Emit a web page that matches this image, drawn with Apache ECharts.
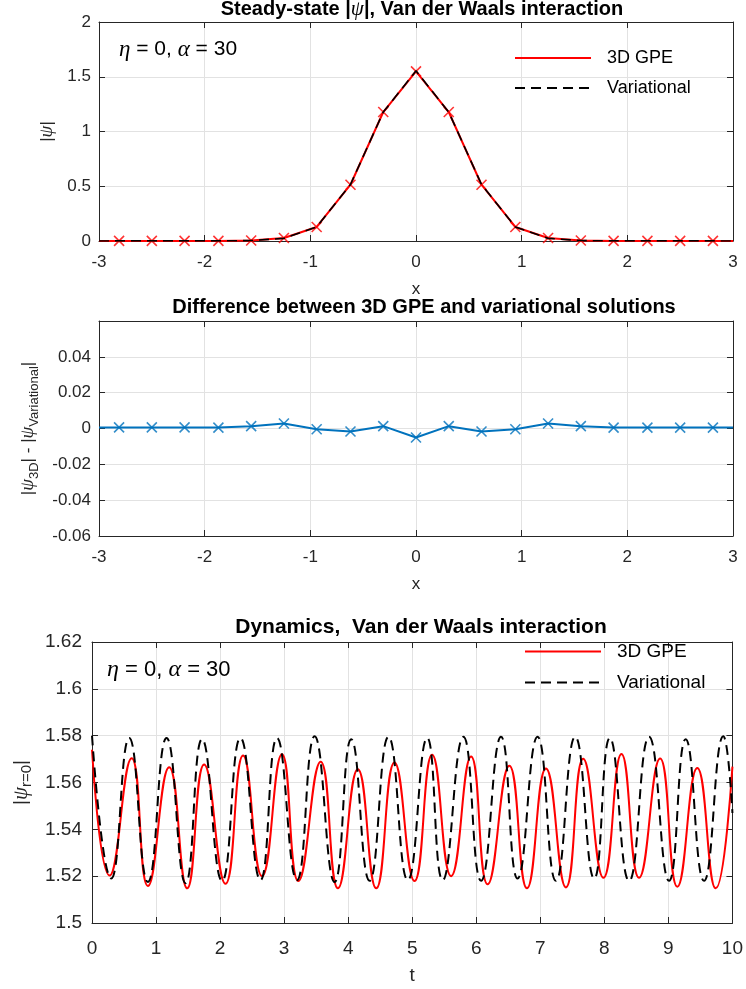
<!DOCTYPE html>
<html>
<head>
<meta charset="utf-8">
<script src="https://cdn.jsdelivr.net/npm/echarts@6/dist/echarts.min.js"></script>
<style>
html,body{margin:0;padding:0;background:#fff;}
#chart{width:746px;height:989px;}
</style>
</head>
<body>
<div id="chart"></div>
<script>
/* steady state: sample positions (edges at -3 / 3 only carry the line) */
var xPos = [-3, -2.81, -2.5, -2.19, -1.87, -1.56, -1.25, -0.94, -0.62, -0.31, 0, 0.31, 0.62, 0.94, 1.25, 1.56, 1.87, 2.19, 2.5, 2.81, 3];
var gpeProfile = [0, 0.001, 0.001, 0.001, 0.001, 0.005, 0.027, 0.128, 0.514, 1.178, 1.549, 1.178, 0.514, 0.128, 0.027, 0.005, 0.001, 0.001, 0.001, 0.001, 0];
var varProfile = [0, 0.001, 0.001, 0.001, 0.001, 0.004, 0.024, 0.128, 0.516, 1.177, 1.554, 1.177, 0.516, 0.128, 0.024, 0.004, 0.001, 0.001, 0.001, 0.001, 0];
// |psi_3D| - |psi_Variational|
var diffProfile = [0.0005, 0.0006, 0.0006, 0.0006, 0.0005, 0.0013, 0.0028, -0.0004, -0.0017, 0.0013, -0.005, 0.0013, -0.0017, -0.0004, 0.0028, 0.0013, 0.0005, 0.0005, 0.0005, 0.0005, 0.0005];

/* dynamics: turning points */
var tGpe = [0, 0.276, 0.619, 0.873, 1.205, 1.486, 1.751, 2.084, 2.359, 2.655, 2.966, 3.222, 3.570, 3.840, 4.151, 4.438, 4.723, 5.035, 5.311, 5.607, 5.919, 6.178, 6.516, 6.792, 7.088, 7.400, 7.670, 7.986, 8.267, 8.542, 8.870, 9.140, 9.451, 9.738, 10];
var gpeDyn = [1.574, 1.5203, 1.5704, 1.5158, 1.5665, 1.5148, 1.5677, 1.5168, 1.5715, 1.52, 1.5721, 1.5179, 1.5689, 1.5148, 1.5657, 1.5148, 1.5685, 1.5179, 1.5718, 1.52, 1.5711, 1.5165, 1.5672, 1.5148, 1.566, 1.5152, 1.5701, 1.5193, 1.5722, 1.5193, 1.5702, 1.5155, 1.5662, 1.5148, 1.5668];
var tVar = [0, 0.301, 0.581, 0.873, 1.164, 1.461, 1.719, 2.031, 2.318, 2.630, 2.889, 3.200, 3.476, 3.788, 4.048, 4.334, 4.630, 4.931, 5.233, 5.476, 5.799, 6.075, 6.387, 6.645, 6.957, 7.244, 7.545, 7.841, 8.086, 8.387, 8.698, 9.010, 9.270, 9.556, 9.857, 10];
var varDyn = [1.58, 1.519, 1.579, 1.5175, 1.579, 1.517, 1.5785, 1.518, 1.579, 1.5183, 1.579, 1.5183, 1.5797, 1.5175, 1.5785, 1.518, 1.5795, 1.5183, 1.579, 1.5183, 1.5795, 1.518, 1.5795, 1.519, 1.5795, 1.518, 1.5795, 1.519, 1.579, 1.518, 1.5795, 1.518, 1.5785, 1.518, 1.5797, 1.547];

var seriesNames = ['3D GPE', 'Variational'];

var fontMain = 'Liberation Sans';
var axisColor = '#262626';
var gridColor = '#e2e2e2';
var xMark = 'path://M0,0L10,10M10,0L0,10';

function pairs(xs, ys){
	var out = [];
	for (var i = 0; i < xs.length; i++) out.push([xs[i], ys[i]]);
	return out;
}

// rich styles for axis names with greek letters / subscripts
function richLabel(fs){
	return {
		n: {fontSize: fs, fontFamily: fontMain, color: axisColor, lineHeight: 26},
		p: {fontSize: fs + 2, fontFamily: 'Liberation Serif', fontStyle: 'italic', color: axisColor, lineHeight: 26},
		s: {fontSize: fs - 4, fontFamily: fontMain, color: axisColor, lineHeight: 13, verticalAlign: 'bottom'}
	};
}

function xAxes(gi, min, max, step, name, gap, fs, margin){
	return [{
		type: 'value', gridIndex: gi, position: 'bottom', min: min, max: max, interval: step,
		axisLine: {onZero: false, lineStyle: {color: axisColor}},
		axisTick: {inside: true, length: 6, lineStyle: {color: axisColor}},
		axisLabel: {color: axisColor, fontSize: fs, fontFamily: fontMain, margin: margin},
		splitLine: {show: true, lineStyle: {color: gridColor}},
		name: name, nameLocation: 'middle', nameGap: gap,
		nameTextStyle: {color: axisColor, fontSize: fs, fontFamily: fontMain}
	}, {
		type: 'value', gridIndex: gi, position: 'top', min: min, max: max, interval: step,
		axisLine: {onZero: false, lineStyle: {color: axisColor}},
		axisTick: {inside: true, length: 6, lineStyle: {color: axisColor}},
		axisLabel: {show: false}, splitLine: {show: false}
	}];
}

function yAxes(gi, min, max, step, name, gap, fs, margin, fmt){
	return [{
		type: 'value', gridIndex: gi, position: 'left', min: min, max: max, interval: step,
		axisLine: {onZero: false, lineStyle: {color: axisColor}},
		axisTick: {inside: true, length: 6, lineStyle: {color: axisColor}},
		axisLabel: {color: axisColor, fontSize: fs, fontFamily: fontMain, margin: margin, formatter: fmt},
		splitLine: {show: true, lineStyle: {color: gridColor}},
		name: name, nameLocation: 'middle', nameGap: gap, nameRotate: 90,
		nameTextStyle: {rich: richLabel(fs)}
	}, {
		type: 'value', gridIndex: gi, position: 'right', min: min, max: max, interval: step,
		axisLine: {onZero: false, lineStyle: {color: axisColor}},
		axisTick: {inside: true, length: 6, lineStyle: {color: axisColor}},
		axisLabel: {show: false}, splitLine: {show: false}
	}];
}

function diffFmt(v){
	if (Math.abs(v - 0.06) < 1e-9) return '';
	return String(+v.toFixed(2));
}

var titleRich = {
	b: {fontSize: 20, fontWeight: 'bold', fontFamily: fontMain, color: '#000'},
	g: {fontSize: 21, fontWeight: 'normal', fontStyle: 'italic', fontFamily: 'Liberation Serif', color: '#000'}
};
function noteRich(fs){
	return {
		t: {fontSize: fs, fontWeight: 'normal', fontFamily: fontMain, color: '#000'},
		i: {fontSize: fs + 2, fontWeight: 'normal', fontStyle: 'italic', fontFamily: 'Liberation Serif', color: '#000'}
	};
}

function makeLegend(left, top, fs, gap){
	return {
		data: seriesNames, left: left, top: top,
		orient: 'vertical', itemWidth: 76, itemHeight: 14, itemGap: gap, selectedMode: false,
		itemStyle: {opacity: 0},
		textStyle: {fontSize: fs, fontFamily: fontMain, color: '#000', padding: [0, 0, 0, 11]}
	};
}

var chart = echarts.init(document.getElementById('chart'), null, {renderer: 'canvas'});

var option = {
	backgroundColor: '#fff',
	animation: false,
	title: [
		{text: '{b|Steady-state |}{g|ψ}{b||, Van der Waals interaction}', left: 417, top: -6, textAlign: 'center', textStyle: {rich: titleRich}},
		{text: 'Difference between 3D GPE and variational solutions', left: 419, top: 292, textAlign: 'center',
			textStyle: {fontSize: 20, fontWeight: 'bold', fontFamily: fontMain, color: '#000'}},
		{text: 'Dynamics,  Van der Waals interaction', left: 416, top: 612, textAlign: 'center',
			textStyle: {fontSize: 21, fontWeight: 'bold', fontFamily: fontMain, color: '#000'}},
		{text: '{i|η}{t| = 0, }{i|α}{t| = 30}', left: 114, top: 33, textStyle: {rich: noteRich(21)}},
		{text: '{i|η}{t| = 0, }{i|α}{t| = 30}', left: 102, top: 653, textStyle: {rich: noteRich(22)}}
	],
	legend: [
		makeLegend(509, 44, 18, 12),
		makeLegend(519, 637, 19, 12)
	],
	grid: [
		{left: 99, right: 13, top: 22, height: 219},
		{left: 99, right: 13, top: 321, height: 215},
		{left: 92, right: 13, top: 642, height: 281}
	],
	xAxis: [].concat(
		xAxes(0, -3, 3, 1, 'x', 40, 17, 13),
		xAxes(1, -3, 3, 1, 'x', 40, 17, 13),
		xAxes(2, 0, 10, 1, 't', 43, 19, 16)
	),
	yAxis: [].concat(
		yAxes(0, 0, 2, 0.5, '{n||}{p|ψ}{n||}', 32, 17, 8),
		yAxes(1, -0.06, 0.06, 0.02, '{n||}{p|ψ}{s|3D}{n|| - |}{p|ψ}{s|Variational}{n||}', 58, 17, 8, diffFmt),
		yAxes(2, 1.5, 1.62, 0.02, '{n||}{p|ψ}{s|r=0}{n||}', 56, 19, 10)
	),
	series: [
		{name: '3D GPE', type: 'line', xAxisIndex: 0, yAxisIndex: 0, data: pairs(xPos, gpeProfile),
			symbol: 'none', lineStyle: {color: '#ff0000', width: 2}, itemStyle: {color: '#ff0000'}},
		{name: 'Variational', type: 'line', xAxisIndex: 0, yAxisIndex: 0, data: pairs(xPos, varProfile),
			symbol: 'none', lineStyle: {color: '#000', width: 1.6, type: [10, 6]}, itemStyle: {color: '#000'}},
		{name: 'gpe markers', type: 'scatter', xAxisIndex: 0, yAxisIndex: 0,
			data: pairs(xPos, gpeProfile).slice(1, -1), symbol: xMark, symbolSize: 10,
			itemStyle: {color: 'rgba(0,0,0,0)', borderColor: '#ff0000', borderWidth: 1.6}},

		{name: 'difference', type: 'line', xAxisIndex: 2, yAxisIndex: 2, data: pairs(xPos, diffProfile),
			symbol: 'none', lineStyle: {color: '#0072bd', width: 2}},
		{name: 'difference markers', type: 'scatter', xAxisIndex: 2, yAxisIndex: 2,
			data: pairs(xPos, diffProfile).slice(1, -1), symbol: xMark, symbolSize: 10,
			itemStyle: {color: 'rgba(0,0,0,0)', borderColor: '#0072bd', borderWidth: 1.6}},

		{name: '3D GPE', type: 'line', xAxisIndex: 4, yAxisIndex: 4, data: pairs(tGpe, gpeDyn),
			smooth: 0.5, symbol: 'none', lineStyle: {color: '#ff0000', width: 2}, itemStyle: {color: '#ff0000'}},
		{name: 'Variational', type: 'line', xAxisIndex: 4, yAxisIndex: 4, data: pairs(tVar, varDyn),
			smooth: 0.5, symbol: 'none', lineStyle: {color: '#000', width: 2, type: [10, 6]}, itemStyle: {color: '#000'}}
	]
};

chart.setOption(option);
</script>
</body>
</html>
